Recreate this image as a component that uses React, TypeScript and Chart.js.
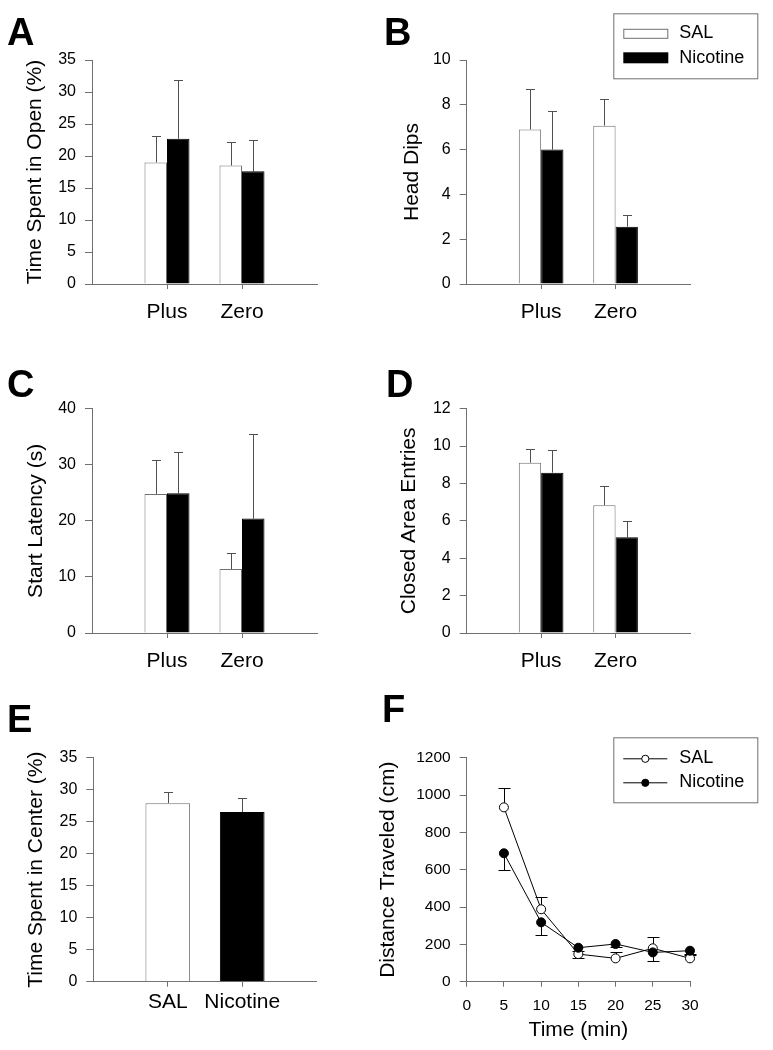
import React, { useEffect, useRef } from 'react';
import { Chart, registerables } from 'chart.js';

Chart.register(...registerables);

const FONT = '"Liberation Sans", Arial, Helvetica, sans-serif';
const AXIS = '#707070';
const ERR = '#505050';

// ---- data ----
const groupLabels = ['', 'Plus', 'Zero', ''];
const seriesNames = ['SAL', 'Nicotine'];

const openSal = [null, 19.0, 18.5, null];
const openNic = [null, 22.7, 17.6, null];
const openSalErr = [null, 23.1, 22.2, null];
const openNicErr = [null, 31.8, 22.5, null];

const dipsSal = [null, 6.9, 7.07, null];
const dipsNic = [null, 6.0, 2.56, null];
const dipsSalErr = [null, 8.72, 8.27, null];
const dipsNicErr = [null, 7.71, 3.08, null];

const latSal = [null, 24.8, 11.4, null];
const latNic = [null, 24.9, 20.4, null];
const latSalErr = [null, 30.8, 14.3, null];
const latNicErr = [null, 32.2, 35.5, null];

const closedSal = [null, 9.11, 6.83, null];
const closedNic = [null, 8.58, 5.12, null];
const closedSalErr = [null, 9.83, 7.86, null];
const closedNicErr = [null, 9.79, 5.99, null];

const centerLabels = ['', 'SAL', 'Nicotine', ''];
const centerValues = [null, 27.9, 26.5, null];
const centerErr = [null, 29.6, 28.65, null];

const timeMin = [5, 10, 15, 20, 25, 30];
const distSal = [934, 388, 148, 125, 179, 125];
const distSalErrUp = [1037, 455, 165, 160, 239, 145];
const distNic = [688, 318, 182, 202, 157, 166];
const distNicErrDown = [598, 250, 125, 185, 111, 150];

// ---- plugins ----
function errorBars(errs: any[][], cap: number, color: string) {
  return {
    id: 'errbars',
    beforeDatasetsDraw(chart: any) {
      const ctx = chart.ctx;
      const y = chart.scales.y;
      ctx.save();
      ctx.strokeStyle = color;
      ctx.lineWidth = 1;
      errs.forEach((arr, di) => {
        const meta = chart.getDatasetMeta(di);
        meta.data.forEach((el: any, i: number) => {
          const v = arr[i];
          if (v == null || el == null || el.skip) return;
          const x = Math.round(el.x) + 0.5;
          const y1 = Math.round(y.getPixelForValue(v)) + 0.5;
          ctx.beginPath();
          ctx.moveTo(x, el.y);
          ctx.lineTo(x, y1);
          ctx.moveTo(x - cap, y1);
          ctx.lineTo(x + cap, y1);
          ctx.stroke();
        });
      });
      ctx.restore();
    },
  };
}

function letterPlugin(letter: string, x: number, y: number) {
  return {
    id: 'letter',
    afterDraw(chart: any) {
      const ctx = chart.ctx;
      ctx.save();
      ctx.fillStyle = '#000';
      ctx.font = `bold 38px ${FONT}`;
      ctx.textBaseline = 'alphabetic';
      ctx.textAlign = 'left';
      ctx.fillText(letter, x, y);
      ctx.restore();
    },
  };
}

function barLegendPlugin(bx: number, by: number) {
  return {
    id: 'barLegend',
    afterDraw(chart: any) {
      const ctx = chart.ctx;
      ctx.save();
      ctx.strokeStyle = AXIS;
      ctx.lineWidth = 1;
      ctx.strokeRect(bx + 0.5, by + 0.5, 144, 65);
      ctx.fillStyle = '#fff';
      ctx.fillRect(bx + 10.5, by + 16, 44, 9);
      ctx.strokeRect(bx + 10.5, by + 16, 44, 9);
      ctx.fillStyle = '#000';
      ctx.fillRect(bx + 10, by + 39, 45, 11);
      ctx.font = `18px ${FONT}`;
      ctx.textBaseline = 'middle';
      ctx.textAlign = 'left';
      ctx.fillText(seriesNames[0], bx + 66, by + 20);
      ctx.fillText(seriesNames[1], bx + 66, by + 44.3);
      ctx.restore();
    },
  };
}

function lineLegendPlugin(bx: number, by: number) {
  return {
    id: 'lineLegend',
    afterDraw(chart: any) {
      const ctx = chart.ctx;
      ctx.save();
      ctx.strokeStyle = AXIS;
      ctx.lineWidth = 1;
      ctx.strokeRect(bx + 0.5, by + 0.5, 144, 65);
      const rows = [by + 21.5, by + 45.5];
      rows.forEach((ry, i) => {
        ctx.strokeStyle = '#000';
        ctx.beginPath();
        ctx.moveTo(bx + 10, ry);
        ctx.lineTo(bx + 54, ry);
        ctx.stroke();
        ctx.beginPath();
        ctx.arc(bx + 32, ry, 3.6, 0, Math.PI * 2);
        ctx.fillStyle = i === 0 ? '#fff' : '#000';
        ctx.fill();
        ctx.stroke();
        ctx.fillStyle = '#000';
        ctx.font = `18px ${FONT}`;
        ctx.textBaseline = 'middle';
        ctx.textAlign = 'left';
        ctx.fillText(seriesNames[i], bx + 66, ry - 0.3);
      });
      ctx.restore();
    },
  };
}

// ---- config builders ----
type Lay = { padL: number; padT: number; padR: number; padB: number; yW: number; xH: number; xPad: number };

function yScale(L: Lay, max: number, step: number, title: string, tickSize: number) {
  return {
    min: 0,
    max,
    ticks: { stepSize: step, color: '#000', font: { family: FONT, size: tickSize }, padding: 9, callback: (v: any) => String(v) },
    grid: { drawOnChartArea: false, drawTicks: true, tickLength: 7, tickColor: AXIS, lineWidth: 1 },
    border: { display: true, color: AXIS, width: 1 },
    title: { display: true, text: title, color: '#000', font: { family: FONT, size: 21 }, padding: { top: 4, bottom: 4 } },
    afterFit: (s: any) => {
      s.width = L.yW;
    },
  };
}

function baseOpts(L: Lay) {
  return {
    responsive: false,
    animation: false,
    events: [],
    layout: { padding: { left: L.padL, top: L.padT, right: L.padR, bottom: L.padB } },
    plugins: { legend: { display: false }, tooltip: { enabled: false }, title: { display: false } },
  };
}

function catX(L: Lay) {
  return {
    type: 'category',
    offset: false,
    grid: {
      offset: false,
      drawOnChartArea: false,
      drawTicks: true,
      tickLength: 5,
      lineWidth: 1,
      tickColor: (c: any) => (c.index === 0 || c.index === 3 ? 'rgba(0,0,0,0)' : AXIS),
    },
    border: { display: true, color: AXIS, width: 1 },
    ticks: { color: '#000', font: { family: FONT, size: 21 }, padding: L.xPad, maxRotation: 0, autoSkip: false },
    afterFit: (s: any) => {
      s.height = L.xH;
    },
  };
}

function groupedBarConfig(L: Lay, sal: any[], nic: any[], salErr: any[], nicErr: any[], max: number, step: number, title: string, extra: any[]) {
  return {
    type: 'bar',
    data: {
      labels: groupLabels,
      datasets: [
        { label: seriesNames[0], data: sal, backgroundColor: '#ffffff', borderColor: AXIS, borderWidth: 1, categoryPercentage: 0.6, barPercentage: 1.0 },
        { label: seriesNames[1], data: nic, backgroundColor: '#000000', borderColor: '#000000', borderWidth: 1, categoryPercentage: 0.6, barPercentage: 1.0 },
      ],
    },
    options: {
      ...baseOpts(L),
      scales: { x: catX(L), y: yScale(L, max, step, title, 16) },
    },
    plugins: [errorBars([salErr, nicErr], 4.5, ERR), ...extra],
  };
}

// ---- layouts ----
const LEFT_W = 386;
const RIGHT_X = 360;
const RIGHT_W = 413;

const layA: Lay = { padL: 18.4, padT: 60, padR: 69, padB: 14, yW: 73.6, xH: 40, xPad: 11 };
const layB: Lay = { padL: 36.1, padT: 60, padR: 83, padB: 14, yW: 70.6, xH: 40, xPad: 11 };
const layC: Lay = { padL: 20.1, padT: 70.7, padR: 69, padB: 10, yW: 71.9, xH: 40, xPad: 11 };
const layD: Lay = { padL: 33, padT: 70.7, padR: 83, padB: 10, yW: 73.7, xH: 40, xPad: 11 };
const layE: Lay = { padL: 20.1, padT: 74.7, padR: 69.3, padB: 3.3, yW: 73.2, xH: 65, xPad: 3 };
const layF: Lay = { padL: 11.4, padT: 74.7, padR: 83, padB: 3.3, yW: 95.3, xH: 65, xPad: 10 };

function makeA() {
  return groupedBarConfig(layA, openSal, openNic, openSalErr, openNicErr, 35, 5, 'Time Spent in Open (%)', [letterPlugin('A', 7, 45)]);
}
function makeB() {
  return groupedBarConfig(layB, dipsSal, dipsNic, dipsSalErr, dipsNicErr, 10, 2, 'Head Dips', [letterPlugin('B', 24, 45), barLegendPlugin(253.3, 13.3)]);
}
function makeC() {
  return groupedBarConfig(layC, latSal, latNic, latSalErr, latNicErr, 40, 10, 'Start Latency (s)', [letterPlugin('C', 7, 58.5)]);
}
function makeD() {
  return groupedBarConfig(layD, closedSal, closedNic, closedSalErr, closedNicErr, 12, 2, 'Closed Area Entries', [letterPlugin('D', 26, 58.5)]);
}
function makeE() {
  return {
    type: 'bar',
    data: {
      labels: centerLabels,
      datasets: [
        {
          label: 'Center',
          data: centerValues,
          backgroundColor: ['#ffffff', '#ffffff', '#000000', '#000000'],
          borderColor: [AXIS, AXIS, '#000000', '#000000'],
          borderWidth: 1,
          categoryPercentage: 0.6,
          barPercentage: 1.0,
        },
      ],
    },
    options: {
      ...baseOpts(layE),
      scales: { x: catX(layE), y: yScale(layE, 35, 5, 'Time Spent in Center (%)', 16) },
    },
    plugins: [errorBars([centerErr], 4.5, ERR), letterPlugin('E', 7, 48.5)],
  };
}
function makeF() {
  const L = layF;
  return {
    type: 'line',
    data: {
      datasets: [
        {
          label: seriesNames[0],
          data: timeMin.map((t, i) => ({ x: t, y: distSal[i] })),
          borderColor: '#000',
          borderWidth: 1,
          pointRadius: 4.5,
          pointBackgroundColor: '#fff',
          pointBorderColor: '#000',
          pointBorderWidth: 1,
          tension: 0,
          clip: false,
          order: 2,
        },
        {
          label: seriesNames[1],
          data: timeMin.map((t, i) => ({ x: t, y: distNic[i] })),
          borderColor: '#000',
          borderWidth: 1,
          pointRadius: 4.5,
          pointBackgroundColor: '#000',
          pointBorderColor: '#000',
          pointBorderWidth: 1,
          tension: 0,
          clip: false,
          order: 1,
        },
      ],
    },
    options: {
      ...baseOpts(L),
      scales: {
        x: {
          type: 'linear',
          min: 0,
          max: 30,
          ticks: { stepSize: 5, color: '#000', font: { family: FONT, size: 15.5 }, padding: L.xPad, maxRotation: 0, callback: (v: any) => String(v) },
          grid: { drawOnChartArea: false, drawTicks: true, tickLength: 5, tickColor: AXIS, lineWidth: 1 },
          border: { display: true, color: AXIS, width: 1 },
          title: { display: true, text: 'Time (min)', color: '#000', font: { family: FONT, size: 21 }, padding: { top: 4, bottom: 4 } },
          afterFit: (s: any) => {
            s.height = L.xH;
          },
        },
        y: yScale(L, 1200, 200, 'Distance Traveled (cm)', 15.5),
      },
    },
    plugins: [errorBars([distSalErrUp, distNicErrDown], 6, '#000'), letterPlugin('F', 22, 38.7), lineLegendPlugin(253.3, 54.3)],
  };
}

function ChartCanvas({ left, top, width, height, make }: { left: number; top: number; width: number; height: number; make: () => any }) {
  const ref = useRef<HTMLCanvasElement | null>(null);
  useEffect(() => {
    if (!ref.current) return;
    const chart = new Chart(ref.current, make());
    return () => chart.destroy();
  }, []);
  return (
    <canvas
      ref={ref}
      width={width}
      height={height}
      style={{ position: 'absolute', left, top, width, height }}
    />
  );
}

export default function App() {
  return (
    <div style={{ position: 'absolute', left: 0, top: 0, width: 773, height: 1050, background: '#fff', overflow: 'hidden' }}>
      <ChartCanvas left={0} top={0} width={LEFT_W} height={338} make={makeA} />
      <ChartCanvas left={RIGHT_X} top={0} width={RIGHT_W} height={338} make={makeB} />
      <ChartCanvas left={0} top={338} width={LEFT_W} height={345} make={makeC} />
      <ChartCanvas left={RIGHT_X} top={338} width={RIGHT_W} height={345} make={makeD} />
      <ChartCanvas left={0} top={683} width={LEFT_W} height={367} make={makeE} />
      <ChartCanvas left={RIGHT_X} top={683} width={RIGHT_W} height={367} make={makeF} />
    </div>
  );
}
